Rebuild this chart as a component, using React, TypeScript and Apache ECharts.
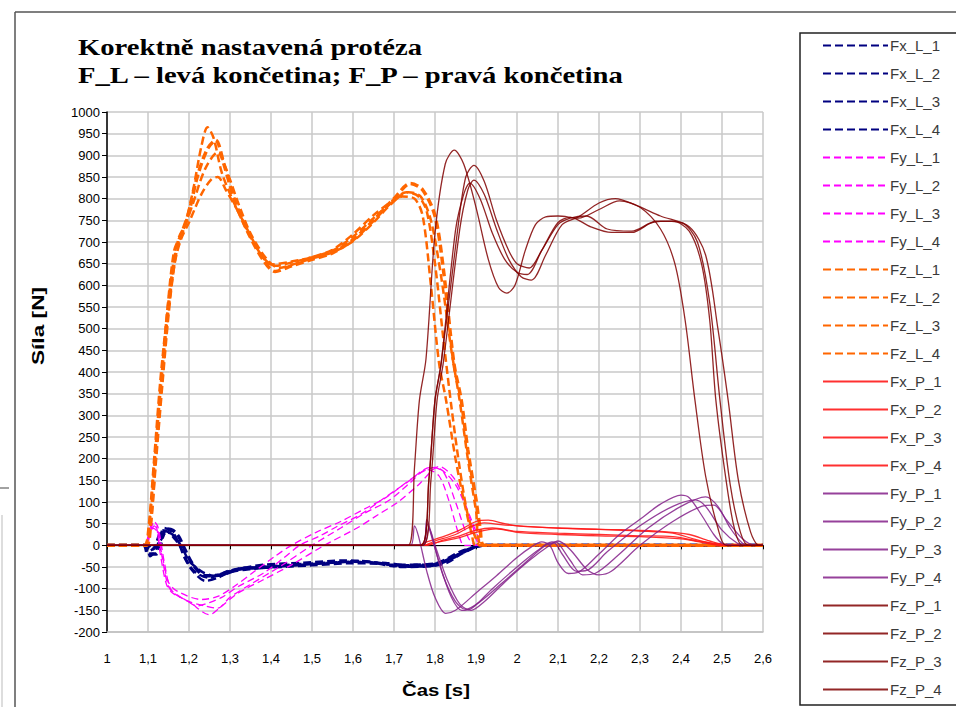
import React, { useEffect, useRef } from "react";
import * as echarts from "echarts";

const X_TICK_LABELS = ["1", "1,1", "1,2", "1,3", "1,4", "1,5", "1,6", "1,7", "1,8", "1,9", "2", "2,1", "2,2", "2,3", "2,4", "2,5", "2,6"];
const SERIES_NAMES = [
  "Fx_L_1", "Fx_L_2", "Fx_L_3", "Fx_L_4",
  "Fy_L_1", "Fy_L_2", "Fy_L_3", "Fy_L_4",
  "Fz_L_1", "Fz_L_2", "Fz_L_3", "Fz_L_4",
  "Fx_P_1", "Fx_P_2", "Fx_P_3", "Fx_P_4",
  "Fy_P_1", "Fy_P_2", "Fy_P_3", "Fy_P_4",
  "Fz_P_1", "Fz_P_2", "Fz_P_3", "Fz_P_4",
];

// [time s, force N]
const FX_L_1 = [[1, 0], [1.09, 0], [1.1, -15], [1.115, -5], [1.135, 35], [1.15, 30], [1.165, 15], [1.18, -5], [1.2, -45], [1.22, -65], [1.25, -75], [1.28, -65], [1.32, -55], [1.4, -48], [1.5, -42], [1.6, -38], [1.65, -40], [1.7, -48], [1.75, -45], [1.8, -42], [1.83, -30], [1.86, -15], [1.89, -5], [1.91, 0], [2.6, 0]];
const FX_L_2 = [[1, 0], [1.095, 0], [1.105, -25], [1.12, -10], [1.14, 40], [1.16, 30], [1.175, 5], [1.19, -30], [1.21, -60], [1.24, -82], [1.27, -75], [1.3, -62], [1.35, -55], [1.45, -47], [1.55, -40], [1.62, -36], [1.7, -45], [1.78, -45], [1.82, -38], [1.85, -25], [1.88, -10], [1.92, 0], [2.6, 0]];
const FX_L_3 = [[1, 0], [1.09, 0], [1.1, -20], [1.12, -20], [1.145, 38], [1.16, 35], [1.175, 20], [1.19, -10], [1.21, -45], [1.24, -70], [1.28, -68], [1.32, -55], [1.4, -50], [1.5, -45], [1.6, -40], [1.68, -42], [1.74, -48], [1.8, -45], [1.84, -30], [1.87, -15], [1.9, -3], [1.92, 0], [2.6, 0]];
const FX_L_4 = [[1, 0], [1.1, 0], [1.11, -10], [1.13, 10], [1.145, 30], [1.16, 25], [1.18, 0], [1.2, -35], [1.23, -60], [1.26, -70], [1.3, -58], [1.38, -45], [1.48, -40], [1.58, -35], [1.66, -40], [1.72, -50], [1.79, -48], [1.83, -40], [1.86, -22], [1.89, -8], [1.915, 0], [2.6, 0]];

const FY_L_1 = [[1, 0], [1.09, 0], [1.1, 20], [1.11, 50], [1.12, 45], [1.13, -20], [1.145, -90], [1.16, -110], [1.19, -125], [1.22, -140], [1.25, -132], [1.28, -120], [1.32, -95], [1.38, -65], [1.43, -30], [1.47, 0], [1.52, 22], [1.56, 43], [1.62, 72], [1.67, 105], [1.73, 144], [1.79, 180], [1.82, 170], [1.85, 100], [1.88, 20], [1.9, 0], [2.6, 0]];
const FY_L_2 = [[1, 0], [1.09, 0], [1.105, 25], [1.115, 45], [1.125, 30], [1.135, -30], [1.15, -95], [1.17, -115], [1.2, -130], [1.25, -160], [1.28, -140], [1.32, -110], [1.38, -80], [1.45, -45], [1.53, 0], [1.61, 40], [1.66, 70], [1.71, 100], [1.76, 140], [1.81, 182], [1.85, 150], [1.88, 80], [1.91, 10], [1.92, 0], [2.6, 0]];
const FY_L_3 = [[1, 0], [1.095, 0], [1.105, 30], [1.115, 55], [1.125, 40], [1.14, -40], [1.155, -100], [1.18, -120], [1.2, -130], [1.24, -140], [1.27, -145], [1.3, -120], [1.35, -90], [1.42, -50], [1.5, 0], [1.57, 40], [1.63, 75], [1.69, 105], [1.74, 145], [1.78, 175], [1.81, 160], [1.835, 100], [1.85, 50], [1.865, 5], [1.87, 0], [2.6, 0]];
const FY_L_4 = [[1, 0], [1.09, 0], [1.1, 15], [1.11, 40], [1.12, 35], [1.135, -25], [1.15, -85], [1.17, -105], [1.23, -125], [1.27, -118], [1.31, -95], [1.36, -60], [1.41, -25], [1.45, 0], [1.51, 30], [1.57, 55], [1.63, 85], [1.68, 110], [1.73, 145], [1.77, 170], [1.8, 180], [1.85, 140], [1.89, 50], [1.915, 0], [2.6, 0]];

const FZ_L_1 = [[1, 0], [1.09, 0], [1.1, 30], [1.115, 200], [1.13, 380], [1.145, 520], [1.16, 640], [1.175, 710], [1.19, 740], [1.21, 820], [1.23, 920], [1.245, 965], [1.26, 940], [1.28, 860], [1.31, 790], [1.34, 730], [1.37, 680], [1.4, 648], [1.45, 655], [1.5, 665], [1.55, 682], [1.6, 718], [1.65, 762], [1.7, 798], [1.73, 815], [1.76, 805], [1.78, 770], [1.8, 650], [1.82, 480], [1.84, 320], [1.86, 180], [1.88, 70], [1.9, 15], [1.91, 0], [2.6, 0]];
const FZ_L_2 = [[1, 0], [1.095, 0], [1.105, 40], [1.12, 230], [1.135, 400], [1.15, 560], [1.165, 680], [1.18, 715], [1.2, 770], [1.22, 850], [1.245, 915], [1.265, 935], [1.285, 880], [1.31, 800], [1.34, 730], [1.38, 660], [1.41, 632], [1.45, 645], [1.5, 660], [1.55, 675], [1.6, 705], [1.65, 750], [1.7, 800], [1.74, 835], [1.77, 820], [1.8, 760], [1.82, 640], [1.846, 420], [1.864, 335], [1.88, 220], [1.9, 105], [1.91, 40], [1.92, 0], [2.6, 0]];
const FZ_L_3 = [[1, 0], [1.09, 0], [1.1, 20], [1.115, 180], [1.13, 350], [1.145, 500], [1.16, 620], [1.175, 700], [1.19, 735], [1.21, 790], [1.24, 870], [1.27, 907], [1.29, 870], [1.32, 790], [1.35, 720], [1.39, 660], [1.42, 640], [1.46, 650], [1.5, 662], [1.55, 676], [1.6, 702], [1.65, 745], [1.69, 785], [1.72, 805], [1.75, 800], [1.77, 760], [1.79, 600], [1.81, 420], [1.827, 335], [1.85, 200], [1.87, 105], [1.89, 25], [1.9, 0], [2.6, 0]];
const FZ_L_4 = [[1, 0], [1.095, 0], [1.105, 30], [1.12, 200], [1.135, 370], [1.15, 530], [1.165, 650], [1.18, 705], [1.2, 745], [1.23, 810], [1.255, 845], [1.27, 850], [1.29, 820], [1.32, 770], [1.35, 715], [1.38, 665], [1.41, 645], [1.46, 655], [1.5, 665], [1.55, 680], [1.6, 712], [1.65, 755], [1.7, 795], [1.735, 815], [1.765, 805], [1.79, 750], [1.815, 620], [1.84, 450], [1.86, 335], [1.88, 200], [1.9, 80], [1.915, 0], [2.6, 0]];

const FX_P_1 = [[1, 0], [1.76, 0], [1.78, 8], [1.82, 20], [1.86, 35], [1.9, 55], [1.93, 58], [1.97, 50], [2.0, 45], [2.1, 40], [2.2, 37], [2.3, 33], [2.38, 28], [2.43, 15], [2.48, 3], [2.5, 0], [2.6, 0]];
const FX_P_2 = [[1, 0], [1.77, 0], [1.8, 10], [1.85, 25], [1.88, 40], [1.92, 52], [1.96, 48], [2.05, 42], [2.15, 38], [2.25, 36], [2.35, 32], [2.42, 25], [2.47, 10], [2.52, 0], [2.6, 0]];
const FX_P_3 = [[1, 0], [1.78, 0], [1.82, 12], [1.86, 22], [1.9, 35], [1.94, 40], [2.0, 32], [2.1, 28], [2.2, 25], [2.3, 22], [2.38, 20], [2.44, 10], [2.5, 2], [2.53, 0], [2.6, 0]];
const FX_P_4 = [[1, 0], [1.77, 0], [1.81, 8], [1.86, 18], [1.9, 30], [1.95, 38], [2.0, 30], [2.1, 25], [2.2, 22], [2.3, 20], [2.4, 15], [2.46, 5], [2.5, 0], [2.6, 0]];

const FY_P_1 = [[1, 0], [1.74, 0], [1.75, 45], [1.76, 20], [1.78, -60], [1.8, -120], [1.826, -157], [1.85, -150], [1.9, -110], [1.95, -70], [2.0, -28], [2.036, -3], [2.06, 8], [2.08, 0], [2.1, -40], [2.125, -65], [2.15, -62], [2.2, -20], [2.25, 25], [2.3, 60], [2.35, 95], [2.4, 116], [2.42, 110], [2.45, 70], [2.48, 25], [2.5, 5], [2.53, 0], [2.6, 0]];
const FY_P_2 = [[1, 0], [1.77, 0], [1.78, 60], [1.79, 30], [1.81, -40], [1.84, -120], [1.865, -150], [1.89, -145], [1.94, -100], [2.0, -50], [2.05, -12], [2.085, 8], [2.1, 5], [2.13, -35], [2.16, -68], [2.19, -65], [2.25, -20], [2.32, 40], [2.4, 90], [2.46, 112], [2.49, 90], [2.52, 40], [2.55, 5], [2.57, 0], [2.6, 0]];
const FY_P_3 = [[1, 0], [1.77, 0], [1.785, 40], [1.8, 0], [1.83, -80], [1.86, -135], [1.888, -150], [1.92, -130], [1.97, -85], [2.03, -35], [2.08, 0], [2.1, 10], [2.13, -10], [2.17, -55], [2.2, -68], [2.23, -60], [2.3, 0], [2.38, 55], [2.45, 90], [2.48, 93], [2.51, 60], [2.55, 15], [2.58, 0], [2.6, 0]];
const FY_P_4 = [[1, 0], [1.77, 0], [1.78, 50], [1.795, 10], [1.82, -70], [1.85, -130], [1.875, -148], [1.91, -130], [1.96, -90], [2.02, -40], [2.07, 0], [2.09, 6], [2.11, -20], [2.145, -60], [2.17, -58], [2.22, -15], [2.3, 45], [2.38, 90], [2.435, 105], [2.46, 90], [2.5, 35], [2.54, 3], [2.56, 0], [2.6, 0]];

const FZ_P_1 = [[1, 0], [1.735, 0], [1.75, 180], [1.762, 335], [1.778, 430], [1.8, 720], [1.825, 880], [1.847, 912], [1.87, 880], [1.9, 780], [1.93, 660], [1.955, 595], [1.975, 582], [1.995, 600], [2.02, 680], [2.045, 740], [2.07, 758], [2.1, 760], [2.15, 755], [2.2, 775], [2.25, 795], [2.3, 780], [2.35, 730], [2.385, 650], [2.41, 520], [2.434, 335], [2.46, 160], [2.49, 40], [2.51, 0], [2.6, 0]];
const FZ_P_2 = [[1, 0], [1.765, 0], [1.785, 150], [1.8, 335], [1.815, 420], [1.855, 727], [1.875, 850], [1.895, 877], [1.92, 840], [1.95, 750], [1.98, 680], [2.0, 650], [2.03, 640], [2.06, 680], [2.1, 740], [2.13, 755], [2.17, 760], [2.22, 730], [2.28, 725], [2.33, 745], [2.38, 748], [2.42, 725], [2.45, 650], [2.47, 520], [2.485, 335], [2.51, 150], [2.53, 40], [2.55, 0], [2.6, 0]];
const FZ_P_3 = [[1, 0], [1.77, 0], [1.79, 150], [1.805, 335], [1.82, 420], [1.86, 727], [1.88, 820], [1.895, 843], [1.92, 810], [1.95, 730], [1.98, 660], [2.01, 620], [2.035, 612], [2.07, 670], [2.11, 740], [2.15, 758], [2.2, 790], [2.24, 800], [2.29, 785], [2.35, 760], [2.42, 735], [2.46, 670], [2.49, 500], [2.515, 335], [2.54, 150], [2.57, 30], [2.59, 0], [2.6, 0]];
const FZ_P_4 = [[1, 0], [1.765, 0], [1.785, 150], [1.8, 335], [1.815, 420], [1.85, 727], [1.87, 810], [1.885, 836], [1.91, 800], [1.94, 720], [1.97, 660], [2.0, 630], [2.025, 625], [2.06, 680], [2.1, 745], [2.13, 757], [2.18, 735], [2.23, 722], [2.28, 722], [2.34, 748], [2.4, 745], [2.44, 700], [2.47, 560], [2.495, 335], [2.52, 140], [2.545, 30], [2.565, 0], [2.6, 0]];

const SERIES_DATA = [
  FX_L_1, FX_L_2, FX_L_3, FX_L_4,
  FY_L_1, FY_L_2, FY_L_3, FY_L_4,
  FZ_L_1, FZ_L_2, FZ_L_3, FZ_L_4,
  FX_P_1, FX_P_2, FX_P_3, FX_P_4,
  FY_P_1, FY_P_2, FY_P_3, FY_P_4,
  FZ_P_1, FZ_P_2, FZ_P_3, FZ_P_4,
];

function styleFor(i: number) {
  const group = Math.floor(i / 4);
  const k = i % 4;
  switch (group) {
    case 0:
      return { color: "#000080", width: k === 2 ? 3.5 : 2.5, type: [8, 4] as any, opacity: 1 };
    case 1:
      return { color: "#ff00ff", width: 1.3, type: [7, 4] as any, opacity: 1 };
    case 2:
      return { color: "#ff6600", width: k === 1 ? 3.5 : 2.5, type: [8, 4] as any, opacity: 1 };
    case 3:
      return { color: "#ff1a1a", width: 1.3, type: "solid" as any, opacity: 0.9 };
    case 4:
      return { color: "#84208a", width: 1.3, type: "solid" as any, opacity: 0.85 };
    default:
      return { color: "#800000", width: 1.3, type: "solid" as any, opacity: 0.85 };
  }
}

export default function App() {
  const ref = useRef<HTMLDivElement>(null);
  useEffect(() => {
    if (!ref.current) return;
    const chart = echarts.init(ref.current, null, { renderer: "svg" });
    const font = "Liberation Sans";
    const series = SERIES_NAMES.map((name, i) => {
      const s = styleFor(i);
      return {
        name,
        type: "line",
        xAxisIndex: 0,
        data: SERIES_DATA[i],
        smooth: 0.3,
        symbol: "none",
        showSymbol: false,
        lineStyle: { color: s.color, width: s.width, type: s.type, opacity: s.opacity },
        itemStyle: { color: s.color },
        emphasis: { disabled: true },
        z: 2,
      };
    });
    chart.setOption({
      animation: false,
      backgroundColor: "#ffffff",
      grid: { left: 107, right: 193, top: 112, bottom: 75, containLabel: false },
      legend: {
        orient: "vertical",
        left: 822,
        top: 38,
        itemWidth: 65,
        itemHeight: 14,
        itemGap: 13,
        padding: 0,
        data: SERIES_NAMES,
        itemStyle: { opacity: 0, borderWidth: 0 },
        textStyle: { color: "#3a3a3a", fontSize: 15, fontFamily: font, padding: [0, 0, 0, -3] },
        selectedMode: false,
      },
      xAxis: [
        {
          type: "value",
          min: 1,
          max: 2.6,
          interval: 0.1,
          position: "bottom",
          axisLine: { show: true, onZero: false, lineStyle: { color: "#c0c0c0", width: 1.5 } },
          axisTick: { show: false },
          axisLabel: {
            margin: 20,
            color: "#000",
            fontSize: 13,
            fontFamily: font,
            formatter: (v: number) => X_TICK_LABELS[Math.round((v - 1) * 10)] ?? "",
          },
          splitLine: { show: true, lineStyle: { color: "#c8c8c8", width: 1.5 } },
        },
        {
          type: "value",
          min: 1,
          max: 2.6,
          interval: 0.1,
          position: "bottom",
          axisLine: { show: true, onZero: true, onZeroAxisIndex: 0, lineStyle: { color: "#000", width: 1 } },
          axisTick: { show: true, length: 4, lineStyle: { color: "#000", width: 1 } },
          axisLabel: { show: false },
          splitLine: { show: false },
          z: 1,
        },
      ],
      yAxis: {
        type: "value",
        min: -200,
        max: 1000,
        interval: 50,
        axisLine: { show: true, lineStyle: { color: "#000", width: 1.5 } },
        axisTick: { show: true, length: 5, lineStyle: { color: "#000", width: 1 } },
        axisLabel: { margin: 7, color: "#000", fontSize: 13, fontFamily: font, formatter: (v: number) => String(v) },
        splitLine: { show: true, lineStyle: { color: "#c8c8c8", width: 1.5 } },
      },
      graphic: [
        { type: "line", shape: { x1: 15, y1: 12, x2: 956, y2: 12 }, style: { stroke: "#555", lineWidth: 1.5 }, silent: true },
        { type: "line", shape: { x1: 15, y1: 12, x2: 15, y2: 707 }, style: { stroke: "#555", lineWidth: 1.5 }, silent: true },
        { type: "line", shape: { x1: 0, y1: 488, x2: 9, y2: 488 }, style: { stroke: "#444", lineWidth: 1 }, silent: true },
        { type: "line", shape: { x1: 2, y1: 515, x2: 2, y2: 707 }, style: { stroke: "#bbb", lineWidth: 1 }, silent: true },
        { type: "rect", shape: { x: 800, y: 33, width: 200, height: 672 }, style: { fill: "none", stroke: "#222", lineWidth: 1.5 }, silent: true },
        {
          type: "text", x: 78, y: 47, scaleX: 1.245,
          style: { text: "Korektně nastavená protéza", font: "bold 23px 'Liberation Serif'", fill: "#000", textAlign: "left", textVerticalAlign: "middle" },
        },
        {
          type: "text", x: 78, y: 75, scaleX: 1.245,
          style: { text: "F_L – levá končetina; F_P – pravá končetina", font: "bold 23px 'Liberation Serif'", fill: "#000", textAlign: "left", textVerticalAlign: "middle" },
        },
        {
          type: "text", x: 38, y: 326, rotation: Math.PI / 2, scaleX: 1.42,
          style: { text: "Síla [N]", font: "bold 16px 'Liberation Sans'", fill: "#000", textAlign: "center", textVerticalAlign: "middle" },
        },
        {
          type: "text", x: 436, y: 690, scaleX: 1.2,
          style: { text: "Čas [s]", font: "bold 17px 'Liberation Sans'", fill: "#000", textAlign: "center", textVerticalAlign: "middle" },
        },
      ],
      series,
    });
    return () => chart.dispose();
  }, []);
  return <div ref={ref} style={{ position: "fixed", left: 0, top: 0, width: 956, height: 707 }} />;
}
